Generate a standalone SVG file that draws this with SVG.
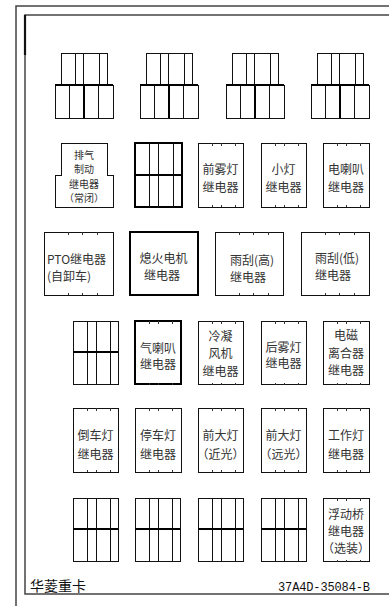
<svg xmlns="http://www.w3.org/2000/svg" width="389" height="606" viewBox="0 0 389 606">
<style>
.frame{fill:none;stroke:#444;stroke-width:1.5}
.b{fill:#fff;stroke:#111;stroke-width:1;shape-rendering:crispEdges}
.bt{fill:#fff;stroke:#000;stroke-width:2;shape-rendering:crispEdges}
.l{stroke:#111;stroke-width:1;fill:none;shape-rendering:crispEdges}
.lt{stroke:#000;stroke-width:2;fill:none;shape-rendering:crispEdges}
.tk{stroke:#333;stroke-width:1;shape-rendering:crispEdges}
.t{font-family:"Noto Sans CJK SC","Liberation Serif",serif;font-size:12px;fill:#333;text-anchor:middle;dominant-baseline:central}
.ts{font-size:10px}
.ft{font-family:"Noto Sans CJK SC",sans-serif;font-size:14px;fill:#111}
.fm{font-family:"Liberation Mono","Noto Sans CJK SC",monospace;font-size:12px;fill:#111}
</style>
<defs>
<g id="stack">
<rect class="b" x="6" y="0" width="46" height="32"/>
<path class="l" d="M20 0V32M28 0V32M44 0V32"/>
<rect class="b" x="0" y="32" width="58" height="33"/>
<path class="l" d="M14 32V65M43 32V65"/>
<path class="lt" d="M29 32V65M0 32H58"/>
</g>
<g id="grid">
<rect class="b" x="0" y="0" width="45" height="63"/>
<path class="l" d="M14 0V63M23 0V63M37 0V63"/>
<path class="lt" d="M0 31H45" style="stroke-width:1.6"/>
</g>
<g id="ticks">
<path class="tk" d="M14 0v2.5M23 0v2.5M37 0v2.5M14 64v-2.5M23 64v-2.5M37 64v-2.5"/>
</g>
<g id="ticksw">
<path class="tk" d="M24 0v2.5M38 0v2.5M53 0v2.5M24 63v-2.5M38 63v-2.5M53 63v-2.5"/>
</g>
</defs>

<g id="frame">
<path class="frame" d="M16 606V6H389"/>
<path class="frame" d="M389 15H25V594H389"/>
<path d="M25 15V55" stroke="#111" stroke-width="2.2"/>
</g>

<g id="connectors"></g>

<g id="r1-1"><use href="#stack" x="55" y="53"/></g>
<g id="r1-2"><use href="#stack" x="140" y="53"/></g>
<g id="r1-3"><use href="#stack" x="226" y="53"/></g>
<g id="r1-4"><use href="#stack" x="311" y="53"/></g>

<g id="exhaust-brake">
<path class="b" d="M61 175V143H107V175H113V207H55V175Z"/>
<text class="t ts" x="84" y="154">排气</text>
<text class="t ts" x="84" y="168">制动</text>
<text class="t ts" x="84" y="183">继电器</text>
<text class="t ts" x="84" y="197">（常闭）</text>
</g>
<g id="r2-grid">
<rect class="bt" x="135" y="143" width="47" height="64"/>
<path class="l" d="M149 143V207M158 143V207M173 143V207"/>
<path class="lt" d="M135 175H182"/>
</g>
<g id="front-fog">
<rect class="b" x="198" y="143" width="45" height="64"/>
<use href="#ticks" x="198" y="143"/>
<text class="t" x="220.5" y="168">前雾灯</text>
<text class="t" x="220.5" y="186">继电器</text>
</g>
<g id="small-lamp">
<rect class="b" x="261" y="143" width="45" height="64"/>
<use href="#ticks" x="261" y="143"/>
<text class="t" x="283.5" y="168">小灯</text>
<text class="t" x="283.5" y="186">继电器</text>
</g>
<g id="electric-horn">
<rect class="b" x="323" y="143" width="46" height="64"/>
<use href="#ticks" x="323" y="143"/>
<text class="t" x="346" y="168">电喇叭</text>
<text class="t" x="346" y="186">继电器</text>
</g>

<g id="pto">
<rect class="b" x="44" y="232" width="69" height="63"/>
<use href="#ticksw" x="44" y="232"/>
<text class="t" x="47" y="258" style="text-anchor:start">PTO继电器</text>
<text class="t" x="47" y="275" style="text-anchor:start">(自卸车)</text>
</g>
<g id="stop-motor">
<rect class="bt" x="130" y="232" width="68" height="63"/>
<text class="t" x="163.5" y="257">熄火电机</text>
<text class="t" x="162" y="274">继电器</text>
</g>
<g id="wiper-high">
<rect class="b" x="215" y="232" width="68" height="63"/>
<use href="#ticksw" x="215" y="232"/>
<text class="t" x="230" y="259" style="text-anchor:start">雨刮(高)</text>
<text class="t" x="230" y="276" style="text-anchor:start">继电器</text>
</g>
<g id="wiper-low">
<rect class="b" x="301" y="232" width="68" height="63"/>
<use href="#ticksw" x="301" y="232"/>
<text class="t" x="315" y="257" style="text-anchor:start">雨刮(低)</text>
<text class="t" x="315" y="274" style="text-anchor:start">继电器</text>
</g>

<g id="r4-grid"><use href="#grid" x="73" y="321"/></g>
<g id="air-horn">
<rect class="bt" x="135" y="321" width="46" height="63"/>
<use href="#ticks" x="135" y="321"/>
<text class="t" x="158" y="347">气喇叭</text>
<text class="t" x="158" y="363">继电器</text>
</g>
<g id="condenser-fan">
<rect class="b" x="198" y="321" width="45" height="63"/>
<use href="#ticks" x="198" y="321"/>
<text class="t" x="220.5" y="335">冷凝</text>
<text class="t" x="220.5" y="352">风机</text>
<text class="t" x="220.5" y="370">继电器</text>
</g>
<g id="rear-fog">
<rect class="b" x="261" y="321" width="45" height="63"/>
<use href="#ticks" x="261" y="321"/>
<text class="t" x="283.5" y="346">后雾灯</text>
<text class="t" x="283.5" y="362">继电器</text>
</g>
<g id="clutch">
<rect class="b" x="323" y="321" width="46" height="63"/>
<use href="#ticks" x="323" y="321"/>
<text class="t" x="346" y="334">电磁</text>
<text class="t" x="346" y="352">离合器</text>
<text class="t" x="346" y="369">继电器</text>
</g>

<g id="reverse-lamp">
<rect class="b" x="73" y="408" width="45" height="64"/>
<use href="#ticks" x="73" y="408"/>
<text class="t" x="95.5" y="434">倒车灯</text>
<text class="t" x="95.5" y="453">继电器</text>
</g>
<g id="parking-lamp">
<rect class="b" x="135" y="408" width="46" height="64"/>
<use href="#ticks" x="135" y="408"/>
<text class="t" x="158" y="434">停车灯</text>
<text class="t" x="158" y="453">继电器</text>
</g>
<g id="headlamp-low">
<rect class="b" x="198" y="408" width="45" height="64"/>
<use href="#ticks" x="198" y="408"/>
<text class="t" x="220.5" y="434">前大灯</text>
<text class="t" x="220.5" y="453">（近光）</text>
</g>
<g id="headlamp-high">
<rect class="b" x="261" y="408" width="45" height="64"/>
<use href="#ticks" x="261" y="408"/>
<text class="t" x="283.5" y="434">前大灯</text>
<text class="t" x="283.5" y="453">（远光）</text>
</g>
<g id="work-lamp">
<rect class="b" x="323" y="408" width="46" height="64"/>
<use href="#ticks" x="323" y="408"/>
<text class="t" x="346" y="434">工作灯</text>
<text class="t" x="346" y="453">继电器</text>
</g>

<g id="r6-1"><use href="#grid" x="73" y="498"/></g>
<g id="r6-2"><use href="#grid" x="135" y="498"/></g>
<g id="r6-3"><use href="#grid" x="198" y="498"/></g>
<g id="r6-4"><use href="#grid" x="261" y="498"/></g>
<g id="floating-bridge">
<rect class="b" x="323" y="498" width="46" height="63"/>
<use href="#ticks" x="323" y="498"/>
<text class="t" x="346" y="513">浮动桥</text>
<text class="t" x="346" y="530">继电器</text>
<text class="t" x="346" y="547">（选装）</text>
</g>

<g id="footer">
<text class="ft" x="30" y="591">华菱重卡</text>
<text class="fm" x="278" y="591" textLength="92">37A4D-35084-B</text>
</g>
</svg>
